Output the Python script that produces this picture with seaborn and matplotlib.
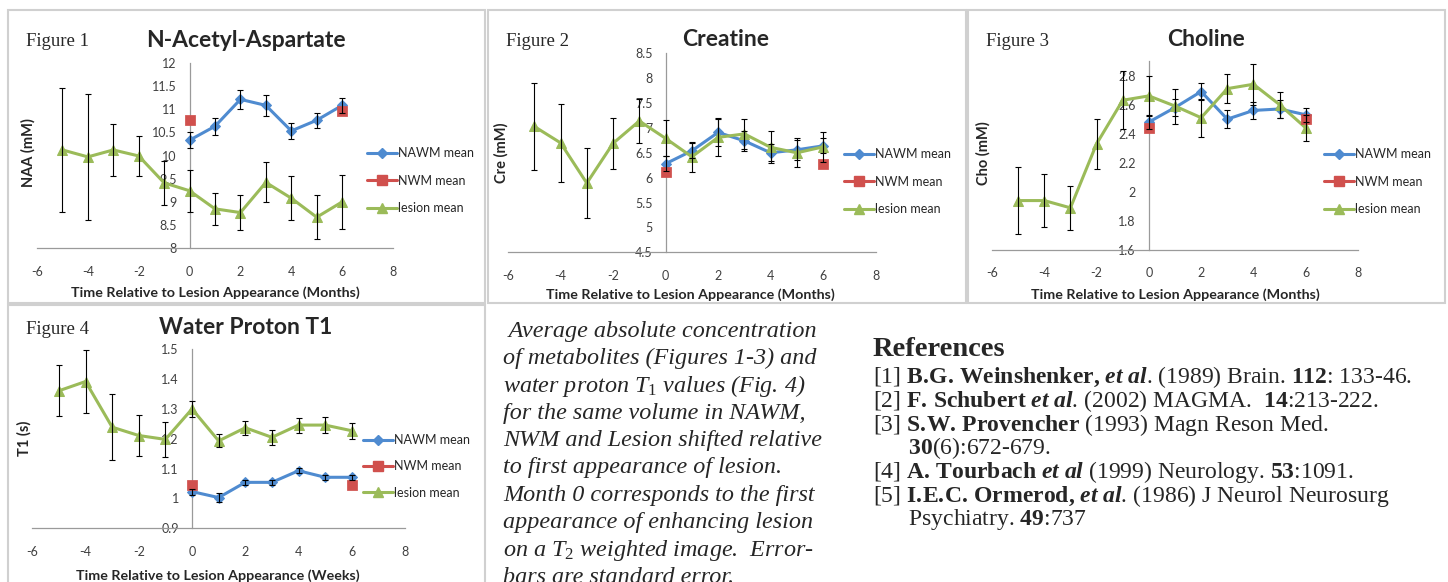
import numpy as np
import pandas as pd
import seaborn as sns
import matplotlib.pyplot as plt
from matplotlib.lines import Line2D
from matplotlib.patches import Rectangle
from matplotlib.ticker import FuncFormatter, MultipleLocator

# --- data ---
months_nawm = [0, 1, 2, 3, 4, 5, 6]
months_nwm = [0, 6]
months_lesion = [-5, -4, -3, -2, -1, 0, 1, 2, 3, 4, 5, 6]

naa_nawm = [10.33, 10.63, 11.21, 11.08, 10.53, 10.76, 11.08]
naa_nawm_se = [0.17, 0.18, 0.20, 0.22, 0.18, 0.16, 0.16]
naa_nwm = [10.77, 10.96]
naa_lesion = [10.12, 9.97, 10.12, 9.99, 9.41, 9.24, 8.85, 8.77, 9.42, 9.08, 8.67, 9.00]
naa_lesion_se = [1.33, 1.35, 0.56, 0.44, 0.48, 0.45, 0.35, 0.37, 0.43, 0.48, 0.47, 0.58]

cre_nawm = [6.28, 6.54, 6.91, 6.74, 6.50, 6.56, 6.64]
cre_nawm_se = [0.15, 0.15, 0.27, 0.20, 0.17, 0.20, 0.15]
cre_nwm = [6.12, 6.28]
cre_lesion = [7.03, 6.70, 5.89, 6.69, 7.14, 6.79, 6.42, 6.81, 6.88, 6.61, 6.50, 6.62]
cre_lesion_se = [0.88, 0.78, 0.71, 0.51, 0.44, 0.36, 0.30, 0.38, 0.30, 0.32, 0.29, 0.30]

cho_nawm = [2.48, 2.58, 2.69, 2.50, 2.56, 2.57, 2.53]
cho_nawm_se = [0.05, 0.06, 0.06, 0.06, 0.06, 0.06, 0.05]
cho_nwm = [2.44, 2.50]
cho_lesion = [1.94, 1.94, 1.89, 2.33, 2.63, 2.66, 2.59, 2.51, 2.71, 2.74, 2.60, 2.44]
cho_lesion_se = [0.23, 0.18, 0.15, 0.17, 0.20, 0.14, 0.12, 0.13, 0.10, 0.14, 0.09, 0.09]

t1_nawm = [1.023, 1.003, 1.054, 1.054, 1.093, 1.071, 1.071]
t1_nawm_se = [0.010, 0.015, 0.008, 0.008, 0.008, 0.008, 0.008]
t1_nwm = [1.045, 1.045]
t1_lesion = [1.361, 1.392, 1.239, 1.211, 1.198, 1.300, 1.193, 1.237, 1.205, 1.246, 1.246, 1.227]
t1_lesion_se = [0.085, 0.107, 0.110, 0.068, 0.058, 0.027, 0.022, 0.024, 0.025, 0.025, 0.028, 0.027]

series_labels = ['NAWM mean', 'NWM mean', 'lesion mean']

caption_lines = [
    ' Average absolute concentration',
    'of metabolites (Figures 1-3) and',
    r'water proton $\mathit{T_1}$ values (Fig. 4)',
    'for the same volume in NAWM,',
    'NWM and Lesion shifted relative',
    'to first appearance of lesion.',
    'Month 0 corresponds to the first',
    'appearance of enhancing lesion',
    r'on a $\mathit{T_2}$ weighted image.  Error-',
    'bars are standard error.',
]

# bold / italic parts done with mathtext; \! cancels the space mathtext adds after a dot
ref_lines = [
    r'[1] $\mathbf{B.\!G.\,Weinshenker{,}}$ $\mathbfit{et\ al}$. (1989) Brain. $\mathbf{112}$: 133-46.',
    r'[2] $\mathbf{F.\,Schubert}$ $\mathbfit{et\ al}$. (2002) MAGMA.  $\mathbf{14}$:213-222.',
    r'[3] $\mathbf{S.\!W.\,Provencher}$ (1993) Magn Reson Med.',
    r'      $\mathbf{30}$(6):672-679.',
    r'[4] $\mathbf{A.\,Tourbach}$ $\mathbfit{et\ al}$ (1999) Neurology. $\mathbf{53}$:1091.',
    r'[5] $\mathbf{I.\!E.\!C.\,Ormerod{,}}$ $\mathbfit{et\ al}$. (1986) J Neurol Neurosurg',
    r'      Psychiatry. $\mathbf{49}$:737',
]

sns.set_style('white')
plt.rcParams['font.family'] = ['Lato', 'DejaVu Sans']
plt.rcParams['axes.unicode_minus'] = False
plt.rcParams['mathtext.fontset'] = 'custom'
plt.rcParams['mathtext.rm'] = 'Liberation Serif'
plt.rcParams['mathtext.it'] = 'Liberation Serif:italic'
plt.rcParams['mathtext.bf'] = 'Liberation Serif:bold'
plt.rcParams['mathtext.bfit'] = 'Liberation Serif:bold:italic'

BLUE, RED, GREEN = '#4F8BD0', '#D0504D', '#9BBB59'
AXC = '#9a9a9a'

W, H = 1448, 582
fig = plt.figure(figsize=(W / 100, H / 100), dpi=100)


def fx(px):
    return px / W


def fy(py):
    return 1 - py / H


def fmt(v, pos):
    return '{:g}'.format(round(v, 3))


def panel(box, ylim, ystep, nawm, nawm_se, nwm, lesion, lesion_se, t):
    x0, x1, yt, yb = box
    ax = fig.add_axes([fx(x0), fy(yb), (x1 - x0) / W, (yb - yt) / H])
    ax.set_facecolor('none')

    d_nawm = pd.DataFrame({'month': months_nawm, 'value': nawm})
    d_nwm = pd.DataFrame({'month': months_nwm, 'value': nwm})
    d_les = pd.DataFrame({'month': months_lesion, 'value': lesion})

    sns.lineplot(data=d_nawm, x='month', y='value', color=BLUE, lw=2.2,
                 marker='D', markersize=5.5, markeredgecolor=BLUE, ax=ax, zorder=3)
    sns.lineplot(data=d_les, x='month', y='value', color=GREEN, lw=2.2,
                 marker='^', markersize=7.5, markeredgecolor=GREEN, ax=ax, zorder=3)
    sns.scatterplot(data=d_nwm, x='month', y='value', color=RED, marker='s',
                    s=45, edgecolor=RED, ax=ax, zorder=4)
    ax.errorbar(months_nawm, nawm, yerr=nawm_se, fmt='none', ecolor='black',
                elinewidth=0.8, capsize=2.3, capthick=0.8, zorder=5)
    ax.errorbar(months_lesion, lesion, yerr=lesion_se, fmt='none', ecolor='black',
                elinewidth=0.8, capsize=2.3, capthick=0.8, zorder=5)

    ax.set_xlim(-6, 8)
    ax.set_ylim(*ylim)
    ax.xaxis.set_major_locator(MultipleLocator(2))
    ax.yaxis.set_major_locator(MultipleLocator(ystep))
    ax.yaxis.set_major_formatter(FuncFormatter(fmt))
    ax.spines['left'].set_position(('data', 0))
    for s in ['top', 'right']:
        ax.spines[s].set_visible(False)
    for s in ['left', 'bottom']:
        ax.spines[s].set_color(AXC)
        ax.spines[s].set_linewidth(0.9)
    ax.tick_params(axis='x', direction='out', length=3.5, width=0.8, color=AXC,
                   pad=9, labelsize=9, labelcolor='#404040')
    ax.tick_params(axis='y', direction='out', length=3.5, width=0.8, color=AXC,
                   pad=6, labelsize=9, labelcolor='#404040')
    ax.set_xlabel('')
    ax.set_ylabel('')

    fig.text(fx(t['fig'][0]), fy(t['fig'][1]), t['num'], family='Liberation Serif',
             fontsize=13.5, va='center', ha='left')
    fig.text(fx(t['title'][0]), fy(t['title'][1]), t['name'], fontsize=16.5,
             weight='bold', ha='center', va='center')
    fig.text(fx(t['ylab'][0]), fy(t['ylab'][1]), t['ylabel'], fontsize=10.5,
             weight='bold', rotation=90, ha='center', va='center')
    fig.text(fx(t['xlab'][0]), fy(t['xlab'][1]), t['xlabel'], fontsize=10.3,
             weight='bold', ha='center', va='center')

    handles = [
        Line2D([], [], color=BLUE, lw=2.2, marker='D', markersize=5.5),
        Line2D([], [], color=RED, lw=2.2, marker='s', markersize=6.5),
        Line2D([], [], color=GREEN, lw=2.2, marker='^', markersize=7.5),
    ]
    fig.legend(handles, series_labels, loc='upper left', frameon=False,
               bbox_to_anchor=(fx(t['leg'][0]), fy(t['leg'][1])),
               bbox_transform=fig.transFigure, fontsize=9, handlelength=2.4,
               handletextpad=0.1, labelspacing=t.get('ls', 1.25), borderpad=0,
               borderaxespad=0)
    return ax


months_x = 'Time Relative to Lesion Appearance (Months)'

panel((37, 393, 62.7, 248.3), (8, 12), 0.5, naa_nawm, naa_nawm_se, naa_nwm,
      naa_lesion, naa_lesion_se,
      dict(num='Figure 1', name='N-Acetyl-Aspartate', ylabel='NAA (mM)', xlabel=months_x,
           fig=(26, 42), title=(246, 40.5), ylab=(28, 153), xlab=(215, 293), leg=(367, 147)))
panel((508, 875.7, 53.3, 252.3), (4.5, 8.5), 0.5, cre_nawm, cre_nawm_se, cre_nwm,
      cre_lesion, cre_lesion_se,
      dict(num='Figure 2', name='Creatine', ylabel='Cre (mM)', xlabel=months_x,
           fig=(506, 42), title=(726, 40), ylab=(501, 153), xlab=(690, 295), leg=(844, 148)))
panel((992, 1358, 61, 250), (1.6, 2.9), 0.2, cho_nawm, cho_nawm_se, cho_nwm,
      cho_lesion, cho_lesion_se,
      dict(num='Figure 3', name='Choline', ylabel='Cho (mM)', xlabel=months_x,
           fig=(986, 42), title=(1206, 40), ylab=(983, 153), xlab=(1175, 295), leg=(1324, 148)))
panel((32.3, 405, 349.3, 528.3), (0.9, 1.5), 0.1, t1_nawm, t1_nawm_se, t1_nwm,
      t1_lesion, t1_lesion_se,
      dict(num='Figure 4', name='Water Proton T1', ylabel='T1 (s)',
           xlabel='Time Relative to Lesion Appearance (Weeks)',
           fig=(26, 330), title=(246, 328), ylab=(24, 438), xlab=(218, 576), leg=(363, 434),
           ls=1.15))

# grey frames round each chart
for x0, y0, x1, y1 in [(8, 10, 485, 303), (488, 10, 966, 303), (968, 10, 1445, 303), (8, 305, 485, 600)]:
    fig.add_artist(Rectangle((fx(x0), fy(y1)), (x1 - x0) / W, (y1 - y0) / H,
                             transform=fig.transFigure, fill=False, ec='#d0d0d0', lw=1.5))

# caption (last line runs off the bottom edge, as on the poster)
for i, line in enumerate(caption_lines):
    fig.text(fx(503), fy(331 + i * 27.4), line, family='Liberation Serif', style='italic',
             fontsize=17.4, ha='left', va='center')

# references
fig.text(fx(873), fy(349), 'References', family='Liberation Serif', weight='bold',
         fontsize=20.5, ha='left', va='center')
for i, line in enumerate(ref_lines):
    fig.text(fx(873), fy(377 + i * 23.8), line, family='Liberation Serif',
             fontsize=17, ha='left', va='center')

fig.savefig('out.png', dpi=100)
